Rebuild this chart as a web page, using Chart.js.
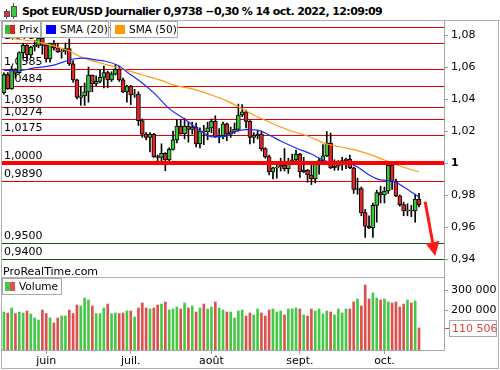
<!DOCTYPE html>
<html lang="fr">
<head>
<meta charset="utf-8">
<title>Spot EUR/USD Journalier</title>
<script src="https://cdn.jsdelivr.net/npm/chart.js@4.4.1/dist/chart.umd.min.js"></script>
<style>
  html, body { margin: 0; padding: 0; background: #fff; }
  body { position: relative; width: 500px; height: 370px; overflow: hidden;
         font-family: "DejaVu Sans", sans-serif; font-size: 11px; color: #000; }
  .abs { position: absolute; }
  .rule { position: absolute; background: #b0b0b0; }
  .box { position: absolute; box-sizing: border-box; height: 17px; background: #fff; border: 1px solid #aaa; }
  .box span { position: absolute; top: 1px; line-height: 13px; font-size: 10.5px; white-space: nowrap; }
  .swatch { position: absolute; top: 3px; width: 10px; height: 9px; }
  canvas { position: absolute; left: 0; }
</style>
</head>
<body>
<canvas id="prix" width="500" height="256" style="top:21px"></canvas>
<canvas id="volume" width="500" height="91" style="top:277px"></canvas>

<div class="abs" style="left:6px;top:9px;width:1px;height:10px;background:#555"></div>
<div class="abs" style="left:4px;top:11px;width:6px;height:6px;background:#e03030;box-sizing:border-box;border:1px solid #555"></div>
<div class="abs" style="left:13px;top:3px;width:1px;height:16px;background:#555"></div>
<div class="abs" style="left:11px;top:6px;width:6px;height:11px;background:#40c840;box-sizing:border-box;border:1px solid #555"></div>
<div class="abs" style="left:22px;top:5px;font-weight:bold;font-size:11px;letter-spacing:-0.6px;line-height:14px;white-space:nowrap">Spot EUR/USD Journalier 0,9738 −0,30 % 14 oct. 2022, 12:09:09</div>

<div class="rule" style="left:0;top:20px;width:500px;height:1px"></div>
<div class="rule" style="left:1px;top:20px;width:1px;height:349px"></div>
<div class="rule" style="left:498px;top:20px;width:1px;height:349px"></div>
<div class="rule" style="left:1px;top:368px;width:498px;height:1px"></div>
<div class="rule" style="left:1px;top:277px;width:443px;height:1px"></div>

<div class="box" style="left:2px;top:21px;width:39px">
  <div class="swatch" style="left:2px;width:5px;background:#2fbf2f"></div>
  <div class="swatch" style="left:7px;width:5px;background:#dd2222"></div>
  <span style="left:16px">Prix</span>
</div>
<div class="box" style="left:41px;top:21px;width:68px">
  <div class="swatch" style="left:4px;background:#0000ff"></div>
  <span style="left:18px">SMA (20)</span>
</div>
<div class="box" style="left:110px;top:21px;width:68px">
  <div class="swatch" style="left:4px;background:#ff9900"></div>
  <span style="left:18px">SMA (50)</span>
</div>

<div class="abs" style="left:3px;top:265px;line-height:13px">ProRealTime.com</div>

<div class="box" style="left:2px;top:278px;width:60px">
  <div class="swatch" style="left:2px;width:5px;background:#45c845"></div>
  <div class="swatch" style="left:7px;width:5px;background:#dc5050"></div>
  <span style="left:16px">Volume</span>
</div>

<script>
// EUR/USD, bougies journalières du 17 mai au 14 oct. 2022
const days = [
  '17/05','18/05','19/05','20/05','23/05','24/05','25/05','26/05','27/05','30/05','31/05',
  '01/06','02/06','03/06','06/06','07/06','08/06','09/06','10/06','13/06','14/06','15/06','16/06','17/06',
  '20/06','21/06','22/06','23/06','24/06','27/06','28/06','29/06','30/06',
  '01/07','04/07','05/07','06/07','07/07','08/07','11/07','12/07','13/07','14/07','15/07','18/07','19/07',
  '20/07','21/07','22/07','25/07','26/07','27/07','28/07','29/07',
  '01/08','02/08','03/08','04/08','05/08','08/08','09/08','10/08','11/08','12/08','15/08','16/08','17/08',
  '18/08','19/08','22/08','23/08','24/08','25/08','26/08','29/08','30/08','31/08',
  '01/09','02/09','05/09','06/09','07/09','08/09','09/09','12/09','13/09','14/09','15/09','16/09','19/09',
  '20/09','21/09','22/09','23/09','26/09','27/09','28/09','29/09','30/09',
  '03/10','04/10','05/10','06/10','07/10','10/10','11/10','12/10','13/10','14/10'
];

const open = [
  1.0440, 1.0553, 1.0465, 1.0585, 1.0565, 1.0690, 1.0735, 1.0675, 1.0725, 1.0735, 1.0780,
  1.0735, 1.0650, 1.0750, 1.0720, 1.0695, 1.0700, 1.0715, 1.0620, 1.0520, 1.0410, 1.0420,
  1.0445, 1.0550, 1.0495, 1.0510, 1.0535, 1.0565, 1.0520, 1.0555, 1.0585, 1.0520, 1.0445,
  1.0480, 1.0425, 1.0430, 1.0265, 1.0180, 1.0160, 1.0180, 1.0040, 1.0035, 1.0060, 1.0020,
  1.0085, 1.0145, 1.0230, 1.0182, 1.0230, 1.0210, 1.0225, 1.0120, 1.0200, 1.0195, 1.0220,
  1.0260, 1.0165, 1.0170, 1.0245, 1.0180, 1.0195, 1.0210, 1.0300, 1.0320, 1.0260, 1.0160,
  1.0170, 1.0180, 1.0090, 1.0040, 0.9945, 0.9970, 0.9975, 0.9985, 0.9965, 1.0000, 1.0020,
  1.0055, 0.9945, 0.9955, 0.9925, 0.9900, 1.0010, 1.0015, 1.0045, 1.0125, 0.9970, 0.9980,
  0.9995, 1.0015, 1.0025, 0.9970, 0.9835, 0.9840, 0.9690, 0.9605, 0.9595, 0.9735, 0.9815,
  0.9800, 0.9825, 0.9985, 0.9885, 0.9795, 0.9740, 0.9700, 0.9705, 0.9700, 0.9775
];
const high = [
  1.0563, 1.0565, 1.0605, 1.0590, 1.0695, 1.0750, 1.0740, 1.0730, 1.0765, 1.0787, 1.0790,
  1.0745, 1.0750, 1.0765, 1.0750, 1.0710, 1.0750, 1.0775, 1.0640, 1.0525, 1.0480, 1.0500,
  1.0600, 1.0550, 1.0545, 1.0580, 1.0605, 1.0575, 1.0570, 1.0615, 1.0605, 1.0530, 1.0485,
  1.0485, 1.0460, 1.0445, 1.0275, 1.0190, 1.0190, 1.0185, 1.0050, 1.0120, 1.0065, 1.0095,
  1.0200, 1.0270, 1.0270, 1.0280, 1.0255, 1.0255, 1.0250, 1.0220, 1.0235, 1.0255, 1.0275,
  1.0295, 1.0215, 1.0255, 1.0250, 1.0225, 1.0250, 1.0368, 1.0365, 1.0330, 1.0265, 1.0190,
  1.0200, 1.0200, 1.0095, 1.0050, 0.9975, 0.9985, 1.0030, 1.0090, 1.0030, 1.0055, 1.0080,
  1.0060, 1.0035, 0.9960, 0.9990, 1.0010, 1.0030, 1.0115, 1.0197, 1.0187, 1.0020, 1.0015,
  1.0035, 1.0030, 1.0050, 0.9975, 0.9905, 0.9850, 0.9710, 0.9670, 0.9750, 0.9830, 0.9855,
  0.9850, 0.9999, 0.9990, 0.9900, 0.9800, 0.9755, 0.9745, 0.9735, 0.9805, 0.9810
];
const low = [
  1.0430, 1.0460, 1.0460, 1.0530, 1.0560, 1.0655, 1.0640, 1.0660, 1.0700, 1.0720, 1.0680,
  1.0630, 1.0630, 1.0705, 1.0690, 1.0655, 1.0680, 1.0610, 1.0505, 1.0400, 1.0360, 1.0360,
  1.0380, 1.0445, 1.0480, 1.0500, 1.0470, 1.0470, 1.0510, 1.0550, 1.0510, 1.0440, 1.0380,
  1.0365, 1.0410, 1.0235, 1.0160, 1.0145, 1.0070, 1.0035, 0.9998, 0.9998, 0.9952, 1.0010,
  1.0080, 1.0125, 1.0180, 1.0150, 1.0130, 1.0180, 1.0100, 1.0095, 1.0115, 1.0145, 1.0190,
  1.0160, 1.0125, 1.0150, 1.0140, 1.0160, 1.0185, 1.0200, 1.0290, 1.0220, 1.0120, 1.0125,
  1.0150, 1.0075, 1.0030, 0.9925, 0.9900, 0.9905, 0.9950, 0.9950, 0.9935, 0.9990, 1.0000,
  0.9910, 0.9940, 0.9880, 0.9865, 0.9875, 0.9930, 1.0000, 1.0040, 0.9965, 0.9955, 0.9955,
  0.9955, 0.9965, 0.9965, 0.9810, 0.9805, 0.9670, 0.9535, 0.9590, 0.9535, 0.9630, 0.9750,
  0.9750, 0.9810, 0.9835, 0.9790, 0.9730, 0.9670, 0.9670, 0.9665, 0.9630, 0.9725
];
const close = [
  1.0553, 1.0465, 1.0585, 1.0560, 1.0690, 1.0735, 1.0675, 1.0725, 1.0735, 1.0780, 1.0735,
  1.0650, 1.0750, 1.0720, 1.0695, 1.0700, 1.0715, 1.0620, 1.0520, 1.0410, 1.0420, 1.0445,
  1.0550, 1.0495, 1.0510, 1.0535, 1.0565, 1.0520, 1.0555, 1.0585, 1.0520, 1.0445, 1.0480,
  1.0425, 1.0430, 1.0265, 1.0180, 1.0160, 1.0180, 1.0040, 1.0035, 1.0060, 1.0020, 1.0085,
  1.0145, 1.0230, 1.0182, 1.0230, 1.0210, 1.0225, 1.0120, 1.0200, 1.0195, 1.0220, 1.0260,
  1.0165, 1.0170, 1.0245, 1.0180, 1.0195, 1.0210, 1.0300, 1.0320, 1.0260, 1.0160, 1.0170,
  1.0180, 1.0090, 1.0040, 0.9945, 0.9970, 0.9975, 0.9985, 0.9965, 1.0000, 1.0020, 1.0055,
  0.9945, 0.9955, 0.9925, 0.9900, 1.0010, 1.0015, 1.0045, 1.0125, 0.9970, 0.9980, 0.9995,
  1.0015, 1.0025, 0.9970, 0.9835, 0.9840, 0.9690, 0.9605, 0.9595, 0.9735, 0.9815, 0.9800,
  0.9825, 0.9985, 0.9885, 0.9795, 0.9740, 0.9700, 0.9705, 0.9700, 0.9775, 0.9738
];
const volumes = [
  190000, 185000, 210000, 182000, 190000, 185000, 195000, 180000, 160000, 150000,
  200000, 182000, 160000, 135000, 160000, 170000, 170000, 200000, 182000, 225000,
  220000, 260000, 250000, 220000, 182000, 182000, 210000, 230000, 182000, 185000,
  182000, 185000, 195000, 195000, 165000, 210000, 235000, 210000, 205000, 210000,
  225000, 230000, 240000, 200000, 205000, 215000, 205000, 235000, 210000, 220000,
  190000, 210000, 230000, 205000, 215000, 240000, 210000, 200000, 190000, 190000,
  160000, 195000, 200000, 170000,
  185000, 175000, 205000, 185000, 170000, 200000, 205000, 190000, 195000, 175000,
  205000, 205000, 210000, 205000, 175000, 170000, 205000, 195000, 205000, 180000,
  195000, 190000, 175000, 205000, 185000, 205000, 205000, 240000, 255000, 220000,
  325000, 255000, 285000, 260000, 250000, 255000, 240000, 235000, 240000, 215000,
  230000, 250000, 235000, 245000, 110506
];

// moyennes mobiles (indice du jour, valeur)
const sma20Day = [0, 3, 8, 13, 18, 21, 24, 26, 30, 32, 36, 39, 43, 47, 50, 52, 54, 57, 60, 63, 66, 69, 72, 76, 80, 83, 86, 90, 92, 95, 98, 101, 104, 106, 108];
const sma20 = [1.0581, 1.0575, 1.0594, 1.0612, 1.0650, 1.0656, 1.0644, 1.0638, 1.0606, 1.0569, 1.0500, 1.0438, 1.0340, 1.0275, 1.0219, 1.0188, 1.0163, 1.0163, 1.0194, 1.0209, 1.0206, 1.0175, 1.0138, 1.0094, 1.0056, 1.0019, 1.0000, 0.9994, 0.9975, 0.9925, 0.9894, 0.9888, 0.9850, 0.9819, 0.9788];
const sma50Day = [0, 3, 9, 17, 20, 25, 30, 36, 41, 44, 49, 54, 58, 64, 69, 74, 79, 84, 89, 94, 99, 103, 108];
const sma50 = [1.0790, 1.0775, 1.0756, 1.0700, 1.0663, 1.0625, 1.0594, 1.0550, 1.0516, 1.0488, 1.0463, 1.0425, 1.0388, 1.0313, 1.0256, 1.0206, 1.0169, 1.0119, 1.0094, 1.0063, 1.0019, 0.9981, 0.9944];

// niveaux tracés à la main
const levelValues = [1.0850, 1.0750, 1.0585, 1.0484, 1.0350, 1.0274, 1.0175, 1.0000, 0.9890, 0.9500, 0.9400];
const levelLabels = ['1,0850', '1,0750', '1,0585', '1,0484', '1,0350', '1,0274', '1,0175', '1,0000', '0,9890', '0,9500', '0,9400'];

const priceTicks = [1.08, 1.06, 1.04, 1.02, 1, 0.98, 0.96, 0.94];
const volumeTicks = [200000, 300000];
const monthTicks = ['01/06', '01/07', '01/08', '01/09', '03/10'];
const monthNames = ['juin', 'juil.', 'août', 'sept.', 'oct.'];

// flèche : [indice du jour, cours]
const arrowFrom = [109.6, 0.9758];
const arrowTo = [112.2, 0.9419];

const FONT = '"DejaVu Sans", sans-serif';
const AXIS_W = 56;
const GREEN = '#33cc33', RED = '#e02626';
const VOL_GREEN = '#45c845', VOL_RED = '#dc5050';

Chart.defaults.font.family = FONT;
Chart.defaults.font.size = 11;
Chart.defaults.color = '#000';

const labels = days.slice();
for (let k = 1; k <= 6; k++) labels.push('+' + k);

const isUp = (i) => close[i] >= open[i];

function formatPrice(v) {
    return String(Math.round(v * 100) / 100).replace('.', ',');
}

function formatVolume(v) {
    return String(Math.round(v)).replace(/\B(?=(\d{3})+(?!\d))/g, ' ');
}

// axe de droite à largeur fixe, sans marge autour des étiquettes
function fixAxis(s) {
    s.width = AXIS_W;
    s.paddingTop = 0;
    s.paddingBottom = 0;
}

const levelsPlugin = {
    id: 'levels',
    beforeDatasetsDraw(chart) {
        const { ctx, chartArea: area, scales: { y } } = chart;
        ctx.save();
        ctx.font = '11px ' + FONT;
        ctx.fillStyle = '#000';
        ctx.textBaseline = 'alphabetic';
        levelValues.forEach((v, k) => {
            const py = Math.round(y.getPixelForValue(v));
            if (v !== 1) {
                ctx.strokeStyle = v < 0.96 ? '#0b5a0b' : '#e00000';
                ctx.lineWidth = 1;
                ctx.beginPath();
                ctx.moveTo(area.left, py + 0.5);
                ctx.lineTo(area.right, py + 0.5);
                ctx.stroke();
            }
            ctx.fillText(levelLabels[k], area.left + 2, py - 4);
        });
        ctx.restore();
    },
    afterDatasetsDraw(chart) {
        const { ctx, chartArea: area, scales: { x, y } } = chart;
        ctx.save();
        // parité
        const py = Math.round(y.getPixelForValue(1));
        ctx.fillStyle = '#ff0000';
        ctx.fillRect(area.left, py - 2, area.right - area.left, 4);

        const x0 = x.getPixelForValue(arrowFrom[0]), y0 = y.getPixelForValue(arrowFrom[1]);
        const x1 = x.getPixelForValue(arrowTo[0]), y1 = y.getPixelForValue(arrowTo[1]);
        const a = Math.atan2(y1 - y0, x1 - x0);
        const bx = x1 - 14 * Math.cos(a), by = y1 - 14 * Math.sin(a);
        ctx.strokeStyle = '#ff1a1a';
        ctx.fillStyle = '#ff1a1a';
        ctx.lineWidth = 3;
        ctx.beginPath();
        ctx.moveTo(x0, y0);
        ctx.lineTo(bx, by);
        ctx.stroke();
        ctx.beginPath();
        ctx.moveTo(x1, y1);
        ctx.lineTo(bx + 7 * Math.sin(a), by - 7 * Math.cos(a));
        ctx.lineTo(bx - 7 * Math.sin(a), by + 7 * Math.cos(a));
        ctx.closePath();
        ctx.fill();
        ctx.restore();
    }
};

const lastVolumePlugin = {
    id: 'lastVolume',
    afterDraw(chart) {
        const { ctx, chartArea: area, scales: { y } } = chart;
        const last = volumes[volumes.length - 1];
        const py = Math.round(y.getPixelForValue(last)) + 0.5;
        ctx.save();
        ctx.strokeStyle = '#e04040';
        ctx.lineWidth = 1;
        ctx.beginPath();
        ctx.moveTo(area.right + 1, py);
        ctx.lineTo(area.right + 5, py);
        ctx.stroke();
        ctx.fillStyle = '#fff';
        ctx.fillRect(area.right + 5.5, py - 8, 47, 16);
        ctx.strokeStyle = '#aaa';
        ctx.strokeRect(area.right + 5.5, py - 8, 47, 16);
        ctx.fillStyle = '#e04040';
        ctx.font = '11px ' + FONT;
        ctx.textBaseline = 'middle';
        ctx.fillText(formatVolume(last), area.right + 8, py + 0.5);
        ctx.restore();
    }
};

new Chart(document.getElementById('prix'), {
    type: 'bar',
    data: {
        labels: labels,
        datasets: [
            {
                type: 'line',
                label: 'SMA (20)',
                data: sma20Day.map((d, k) => ({ x: days[d], y: sma20[k] })),
                borderColor: '#1a2cff',
                borderWidth: 1.2,
                pointRadius: 0,
                cubicInterpolationMode: 'monotone',
                order: 0
            },
            {
                type: 'line',
                label: 'SMA (50)',
                data: sma50Day.map((d, k) => ({ x: days[d], y: sma50[k] })),
                borderColor: '#ff9a10',
                borderWidth: 1.2,
                pointRadius: 0,
                cubicInterpolationMode: 'monotone',
                order: 0
            },
            {
                label: 'Prix',
                data: days.map((_, i) => [open[i], close[i]]),
                backgroundColor: (c) => (isUp(c.dataIndex) ? GREEN : RED),
                borderColor: '#000',
                borderWidth: 1,
                borderSkipped: false,
                barThickness: 4,
                grouped: false,
                order: 1
            },
            {
                label: 'Mèches',
                data: days.map((_, i) => [low[i], high[i]]),
                backgroundColor: '#000',
                borderWidth: 0,
                barThickness: 1,
                grouped: false,
                order: 2
            }
        ]
    },
    options: {
        responsive: false,
        animation: false,
        events: [],
        layout: { padding: { left: 2, right: 0, top: 0, bottom: 0 } },
        plugins: { legend: { display: false }, tooltip: { enabled: false } },
        scales: {
            x: { display: false },
            y: {
                position: 'right',
                min: 0.92875,
                max: 1.08875,
                afterBuildTicks: (s) => { s.ticks = priceTicks.map((v) => ({ value: v })); },
                afterFit: fixAxis,
                border: { color: '#a8a8a8' },
                grid: { drawOnChartArea: false, tickLength: 4, color: '#999' },
                ticks: {
                    padding: 3,
                    color: '#000',
                    callback: (v) => formatPrice(v),
                    font: (c) => ({ family: FONT, size: 11, weight: c.tick && c.tick.value === 1 ? 'bold' : 'normal' })
                }
            }
        }
    },
    plugins: [levelsPlugin]
});

new Chart(document.getElementById('volume'), {
    type: 'bar',
    data: {
        labels: labels,
        datasets: [{
            label: 'Volume',
            data: volumes,
            backgroundColor: (c) => (isUp(c.dataIndex) ? VOL_GREEN : VOL_RED),
            barThickness: 2
        }]
    },
    options: {
        responsive: false,
        animation: false,
        events: [],
        layout: { padding: { left: 2, right: 0, top: 0, bottom: 0 } },
        plugins: { legend: { display: false }, tooltip: { enabled: false } },
        scales: {
            x: {
                afterBuildTicks: (s) => { s.ticks = monthTicks.map((d) => ({ value: days.indexOf(d) })); },
                afterFit: (s) => { s.height = 18; s.paddingLeft = 0; s.paddingRight = 0; },
                border: { color: '#a8a8a8' },
                grid: { drawOnChartArea: false, offset: false, tickLength: 4, color: '#999' },
                ticks: {
                    autoSkip: false,
                    maxRotation: 0,
                    padding: 1,
                    color: '#000',
                    callback: (v) => monthNames[monthTicks.indexOf(days[v])]
                }
            },
            y: {
                position: 'right',
                min: 0,
                max: 365000,
                afterBuildTicks: (s) => { s.ticks = volumeTicks.map((v) => ({ value: v })); },
                afterFit: fixAxis,
                border: { color: '#a8a8a8' },
                grid: { drawOnChartArea: false, tickLength: 4, color: '#999' },
                ticks: { padding: 3, color: '#000', callback: (v) => formatVolume(v) }
            }
        }
    },
    plugins: [lastVolumePlugin]
});
</script>
</body>
</html>
